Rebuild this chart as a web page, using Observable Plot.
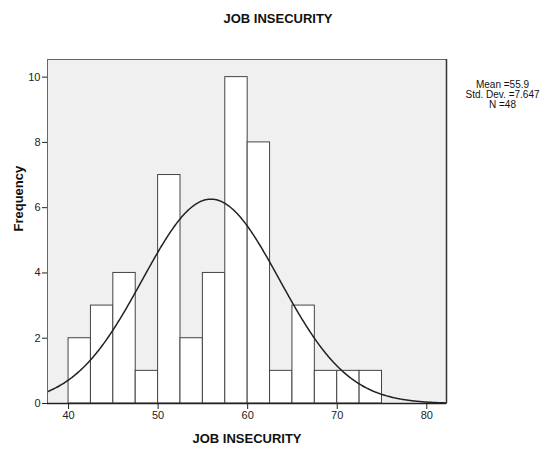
<!DOCTYPE html>
<html>
<head>
<meta charset="utf-8">
<script src="https://cdn.jsdelivr.net/npm/d3@7"></script>
<script src="https://cdn.jsdelivr.net/npm/@observablehq/plot@0.6"></script>
<style>
  body { margin: 0; background: white; }
</style>
</head>
<body>
<div id="chart"></div>
<script>
// Histogram bins (lower edges) and counts
const binLower = [40, 42.5, 45, 47.5, 50, 52.5, 55, 57.5, 60, 62.5, 65, 67.5, 70, 72.5];
const binUpper = [42.5, 45, 47.5, 50, 52.5, 55, 57.5, 60, 62.5, 65, 67.5, 70, 72.5, 75];
const counts   = [2, 3, 4, 1, 7, 2, 4, 10, 8, 1, 3, 1, 1, 1];

// Summary statistics
const mean = 55.9;
const stdDev = 7.647;
const n = 48;

const xTicks = [40, 50, 60, 70, 80];
const yTicks = [0, 2, 4, 6, 8, 10];

const titleText = "JOB INSECURITY";
const xLabel = "JOB INSECURITY";
const yLabel = "Frequency";
const statsText = `Mean =${mean}\nStd. Dev. =${stdDev}\nN =${n}`;

const bins = binLower.map((lo, i) => ({x1: lo, x2: binUpper[i], y: counts[i]}));

// Fitted normal curve scaled to counts (N * bin width * density)
const binWidth = binUpper[0] - binLower[0];
const curve = d3.range(36, 84.01, 0.1).map(x => ({
  x,
  y: n * binWidth * Math.exp(-0.5 * ((x - mean) / stdDev) ** 2) / (stdDev * Math.sqrt(2 * Math.PI))
}));

const chart = Plot.plot({
  width: 555,
  height: 450,
  marginLeft: 47,
  marginRight: 109,
  marginTop: 59,
  marginBottom: 47,
  style: {fontFamily: "'Liberation Sans', Arial, sans-serif", fontSize: "11px", background: "white", color: "#222"},
  x: {domain: [37.65, 82.2], label: null},
  y: {domain: [0, 10.54], label: null},
  marks: [
    Plot.frame({fill: "#f0f0f0", stroke: null}),
    Plot.rectY(bins, {x1: "x1", x2: "x2", y: "y", fill: "white", stroke: "#444", strokeWidth: 1}),
    Plot.line(curve, {x: "x", y: "y", stroke: "#222", strokeWidth: 1.5, clip: true}),
    Plot.frame({stroke: "#666", strokeWidth: 1}),
    Plot.ruleY([0], {stroke: "#222", strokeWidth: 1.5}),
    Plot.ruleX([82.2], {stroke: "#333", strokeWidth: 1.5}),
    Plot.axisX(xTicks, {tickSize: 6, tickPadding: 2, stroke: "#222", fill: "#222", label: null}),
    Plot.axisY(yTicks, {tickSize: 5, tickPadding: 2, stroke: "#222", fill: "#222", label: null}),
    Plot.text([titleText], {frameAnchor: "top", dx: 31, dy: -41, lineAnchor: "middle", fontSize: 13, fontWeight: "bold", fill: "#111"}),
    Plot.text([xLabel], {frameAnchor: "bottom", dy: 35, lineAnchor: "middle", fontSize: 13, fontWeight: "bold", fill: "#111"}),
    Plot.text([yLabel], {frameAnchor: "left", dx: -29, rotate: -90, fontSize: 13, fontWeight: "bold", fill: "#111"}),
    Plot.text([statsText], {frameAnchor: "top-right", dx: 56, dy: 35, textAnchor: "middle", lineAnchor: "middle", lineHeight: 1.0, fontSize: 10, fill: "#111"})
  ]
});

document.getElementById("chart").append(chart);
</script>
</body>
</html>
